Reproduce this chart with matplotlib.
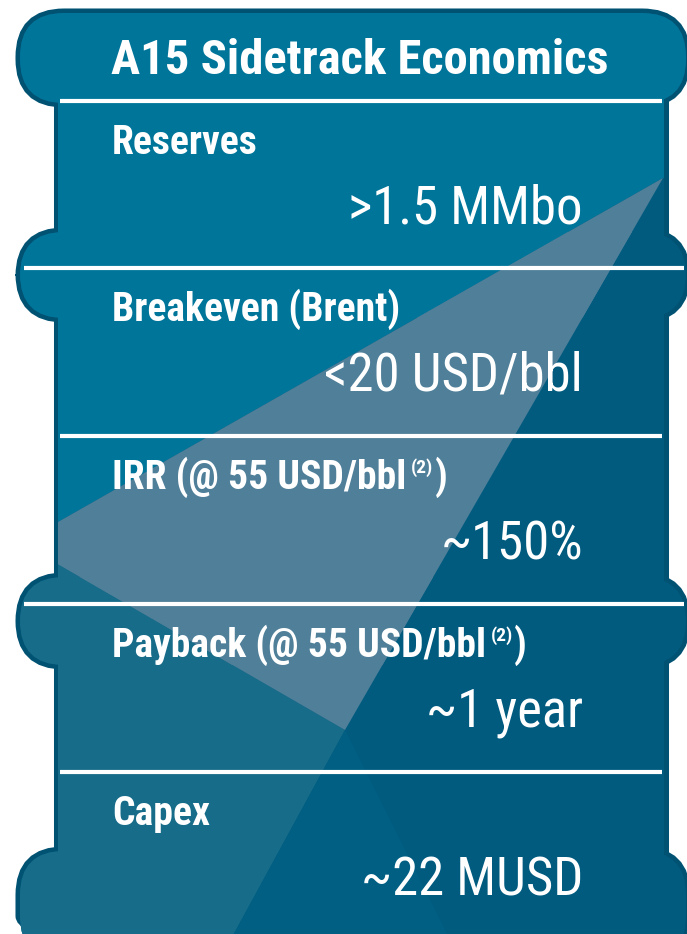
import matplotlib
matplotlib.use('Agg')
import matplotlib.pyplot as plt
from matplotlib.patches import Polygon, Rectangle, FancyBboxPatch

# content
title = 'A15 Sidetrack Economics'
labels = ['Reserves', 'Breakeven (Brent)', 'IRR (@ 55 USD/bbl', 'Payback (@ 55 USD/bbl', 'Capex']
notes = ['', '', '(2)', '(2)', '']
values = ['>1.5 MMbo', '<20 USD/bbl', '~150%', '~1 year', '~22 MUSD']

W, H = 687, 934
fam = ['Roboto Condensed', 'DejaVu Sans']

fig = plt.figure(figsize=(W / 100, H / 100), dpi=100)
ax = fig.add_axes([0, 0, 1, 1])
ax.set_xlim(0, W)
ax.set_ylim(H, 0)
ax.axis('off')

outline = '#005272'
bright = '#00759A'
dark = '#005B7F'
light = '#4F7F99'
medium = '#176C89'
middark = '#005F83'

# shape pieces: body column + rounded bands
pieces = [Rectangle((58, 50), 606, 940)]
for y0, y1 in [(13, 103), (232, 318), (577, 665), (851, 960)]:
    pieces.append(FancyBboxPatch((20, y0), 666, y1 - y0,
                                 boxstyle='round,pad=0,rounding_size=44'))
for p in pieces:
    p.set_facecolor('none')
    p.set_edgecolor(outline)
    p.set_linewidth(6.5)
    ax.add_patch(p)

# light beams
apex = (21, 543)
regions = [
    ([(0, 0), (W, 0), (W, H + 40), (0, H + 40)], dark),
    ([(0, 0), (W, 0), (W, 178), (663, 178), (0, 555)], bright),
    ([apex, (345, 730), (212, H + 40), (0, H + 40), (0, 543)], medium),
    ([(345, 730), (212, H + 40), (467, H + 40)], middark),
    ([apex, (663, 178), (345, 730)], light),
]
for pts, col in regions:
    for p in pieces:
        poly = Polygon(pts, closed=True, facecolor=col, edgecolor='none')
        ax.add_patch(poly)
        poly.set_clip_path(p)

# dividers
dividers = [101, 268, 436, 604, 772]
for i, d in enumerate(dividers):
    x0, x1 = (24, 684) if i in (1, 3) else (60, 662)
    ax.plot([x0, x1], [d, d], color='white', lw=3, solid_capstyle='butt')

ax.text(360, 74, title, ha='center', va='baseline', fontsize=35,
        fontweight='bold', family=fam, color='white')

renderer = fig.canvas.get_renderer()
for d, lab, note, val in zip(dividers, labels, notes, values):
    t = ax.text(112, d + 53, lab, ha='left', va='baseline', fontsize=28.5,
                fontweight='bold', family=fam, color='white')
    if note:
        x = t.get_window_extent(renderer).x1 + 5
        s = ax.text(x, d + 37, note, ha='left', va='baseline', fontsize=14,
                    fontweight='bold', family=fam, color='white')
        x = s.get_window_extent(renderer).x1 + 1
        ax.text(x, d + 53, ')', ha='left', va='baseline', fontsize=28.5,
                fontweight='bold', family=fam, color='white')
    ax.text(583, d + 123, val, ha='right', va='baseline', fontsize=38,
            fontweight='normal', family=fam, color='white')

fig.savefig('out.png', dpi=100)
